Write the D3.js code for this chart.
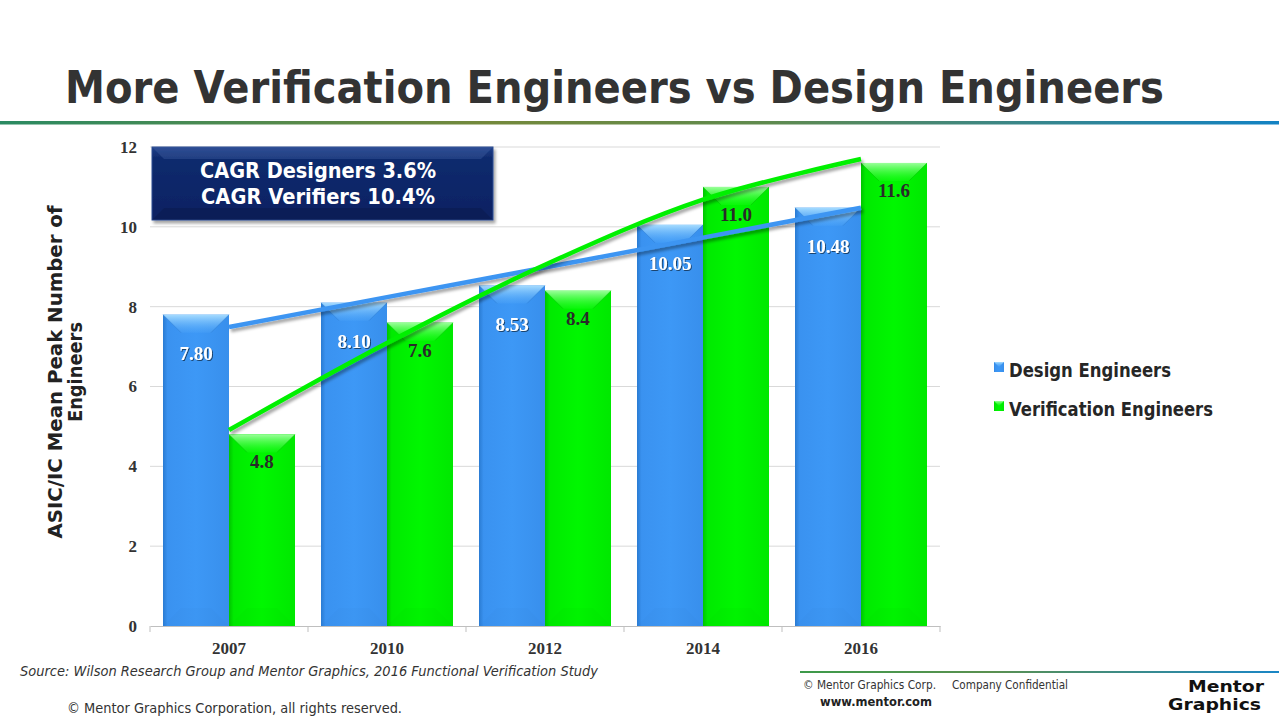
<!DOCTYPE html>
<html><head><meta charset="utf-8">
<script src="https://cdn.jsdelivr.net/npm/d3@7"></script>
<style>body{margin:0;background:#fff;overflow:hidden}svg{display:block}</style>
</head><body>
<svg id="c" width="1279" height="720"></svg>
<script>
// ---------- data ----------
const categories = ["2007", "2010", "2012", "2014", "2016"];
const seriesNames = ["Design Engineers", "Verification Engineers"];
const designValues = [7.80, 8.10, 8.53, 10.05, 10.48];
const verificationValues = [4.8, 7.6, 8.4, 11.0, 11.6];
const designTrend = [7.49, 8.24, 8.98, 9.73, 10.48];
const verificationTrend = [4.91, 7.09, 9.05, 10.68, 11.70];
const yTicks = [0, 2, 4, 6, 8, 10, 12];
const titleText = "More Verification Engineers vs Design Engineers";
const cagrLines = ["CAGR Designers  3.6%", "CAGR Verifiers  10.4%"];
const yTitleLines = ["ASIC/IC Mean Peak Number of", "Engineers"];
const sourceText = "Source:  Wilson Research Group and Mentor Graphics, 2016 Functional Verification Study";
const copyrightText = "\u00A9 Mentor Graphics Corporation, all rights reserved.";

// ---------- setup ----------
const svg = d3.select("#c");
const SANS = "'DejaVu Sans', Verdana, sans-serif";
const SERIF = "'Liberation Serif', 'Times New Roman', serif";
const defs = svg.append("defs");

function lin(id, x2, y2, stops) {
  const g = defs.append("linearGradient").attr("id", id)
    .attr("x1", 0).attr("y1", 0).attr("x2", x2).attr("y2", y2);
  stops.forEach(s => g.append("stop").attr("offset", s[0]).attr("stop-color", s[1])
    .attr("stop-opacity", s[2] === undefined ? 1 : s[2]));
}
lin("hdr", 1, 0, [[0, "#2a8a62"], [0.38, "#74893b"], [0.6, "#5f8a4e"], [1, "#1282c4"]]);
lin("ftr", 1, 0, [[0, "#3d9a4a"], [0.4, "#5a9050"], [1, "#1a86c6"]]);
lin("blueMain", 1, 0, [[0, "#2a7bd2"], [0.07, "#3a92f0"], [0.5, "#3d98f6"], [1, "#388fec"]]);
lin("greenMain", 1, 0, [[0, "#00c400"], [0.07, "#00ea00"], [0.5, "#00f700"], [1, "#00e800"]]);
lin("blueTop", 0, 1, [[0, "#a6dcff"], [1, "#5aaefa", 0.2]]);
lin("greenTop", 0, 1, [[0, "#9bff9b"], [1, "#33ff33", 0.2]]);
lin("boxFill", 0, 1, [[0, "#20408a"], [0.15, "#0f2b6e"], [1, "#0a2162"]]);

const f1 = defs.append("filter").attr("id", "shadow").attr("x", "-10%").attr("y", "-30%").attr("width", "130%").attr("height", "180%");
f1.append("feDropShadow").attr("dx", 2).attr("dy", 3).attr("stdDeviation", 1.8)
  .attr("flood-color", "#000").attr("flood-opacity", 0.35);
const f2 = defs.append("filter").attr("id", "txtShadow").attr("x", "-20%").attr("y", "-40%").attr("width", "150%").attr("height", "200%");
f2.append("feDropShadow").attr("dx", 1).attr("dy", 1).attr("stdDeviation", 0.6)
  .attr("flood-color", "#000").attr("flood-opacity", 0.55);

function fit(sel, len) { return sel.attr("textLength", len).attr("lengthAdjust", "spacingAndGlyphs"); }

// ---------- header ----------
fit(svg.append("text").attr("x", 65).attr("y", 103)
  .style("font-family", SANS).style("font-weight", "bold").style("font-size", "44px")
  .attr("fill", "#333333").text(titleText), 1099);
svg.append("rect").attr("x", 0).attr("y", 121).attr("width", 1279).attr("height", 3.5).attr("fill", "url(#hdr)");

// ---------- scales ----------
const x = d3.scaleBand().domain(categories).range([150, 940]).paddingInner(0.1646).paddingOuter(0.0823);
const xs = d3.scaleBand().domain([0, 1]).range([0, x.bandwidth()]);
const y = d3.scaleLinear().domain([0, 12]).range([626, 147]);

// gridlines
svg.append("g").selectAll("line").data(yTicks.filter(d => d > 0)).join("line")
  .attr("x1", 150).attr("x2", 940).attr("y1", d => y(d)).attr("y2", d => y(d))
  .attr("stroke", "#d9d9d9").attr("stroke-width", 1);

// y axis (labels only)
const yAxis = svg.append("g").attr("transform", "translate(150,0)")
  .call(d3.axisLeft(y).tickValues(yTicks).tickSize(0).tickPadding(13).tickFormat(d3.format("d")));
yAxis.select(".domain").remove();
yAxis.selectAll("text").style("font-family", SERIF).style("font-weight", "bold")
  .style("font-size", "17px").attr("fill", "#333");

// x axis
const xAxis = svg.append("g").attr("transform", "translate(0,626)")
  .call(d3.axisBottom(x).tickSize(0).tickPadding(16));
xAxis.select(".domain").attr("stroke", "#bfbfbf");
xAxis.selectAll("text").style("font-family", SERIF).style("font-weight", "bold")
  .style("font-size", "17px").attr("fill", "#333");
const bounds = categories.map(c => x(c) - (x.step() - x.bandwidth()) / 2).concat([940]);
svg.append("g").selectAll("line").data(bounds).join("line")
  .attr("x1", d => d).attr("x2", d => d).attr("y1", 626).attr("y2", 632)
  .attr("stroke", "#bfbfbf");

// ---------- bars ----------
const series = [
  { name: seriesNames[0], values: designValues, main: "url(#blueMain)", top: "url(#blueTop)", edge: "#2b78cc", fmt: d3.format(".2f"), lab: "#ffffff", dy: 45 },
  { name: seriesNames[1], values: verificationValues, main: "url(#greenMain)", top: "url(#greenTop)", edge: "#00b800", fmt: d3.format(".1f"), lab: "#2a2a2a", dy: 34 }
];
const B = 18;
series.forEach((s, si) => {
  const g = svg.append("g");
  const items = categories.map((c, i) => ({ c, v: s.values[i], x0: x(c) + xs(si), w: xs.bandwidth() }));
  g.selectAll("rect.bar").data(items).join("rect").attr("class", "bar")
    .attr("x", d => d.x0).attr("y", d => y(d.v)).attr("width", d => d.w).attr("height", d => y(0) - y(d.v))
    .attr("fill", s.main);
  g.selectAll("path.bevel").data(items).join("path").attr("class", "bevel")
    .attr("d", d => { const t = y(d.v); return `M${d.x0},${t}L${d.x0 + d.w},${t}L${d.x0 + d.w - B},${t + B}L${d.x0 + B},${t + B}Z`; })
    .attr("fill", s.top);
  g.selectAll("path.diag").data(items).join("path").attr("class", "diag")
    .attr("d", d => { const t = y(d.v); return `M${d.x0},${t}L${d.x0 + B},${t + B}M${d.x0 + d.w},${t}L${d.x0 + d.w - B},${t + B}`; })
    .attr("stroke", s.edge).attr("stroke-opacity", 0.45).attr("stroke-width", 1).attr("fill", "none");
  g.selectAll("path.bot").data(items).join("path").attr("class", "bot")
    .attr("d", d => { const b = y(0); return `M${d.x0},${b}L${d.x0 + B},${b - B}L${d.x0 + d.w - B},${b - B}L${d.x0 + d.w},${b}Z`; })
    .attr("fill", s.edge).attr("fill-opacity", 0.06);
});

// ---------- trend lines ----------
const trendX = c => x(c) + x.bandwidth() / 2;
svg.append("path").datum(designTrend)
  .attr("d", d3.line().x((d, i) => trendX(categories[i])).y(d => y(d)))
  .attr("fill", "none").attr("stroke", "#3d95f2").attr("stroke-width", 4.5).attr("filter", "url(#shadow)");
svg.append("path").datum(verificationTrend)
  .attr("d", d3.line().x((d, i) => trendX(categories[i])).y(d => y(d)).curve(d3.curveCatmullRom.alpha(0.5)))
  .attr("fill", "none").attr("stroke", "#00f000").attr("stroke-width", 4.5).attr("filter", "url(#shadow)");

// ---------- data labels ----------
series.forEach((s, si) => {
  svg.append("g").selectAll("text").data(s.values).join("text")
    .attr("x", (d, i) => x(categories[i]) + xs(si) + xs.bandwidth() / 2)
    .attr("y", d => y(d) + s.dy)
    .attr("text-anchor", "middle")
    .style("font-family", SERIF).style("font-weight", "bold").style("font-size", "19px")
    .attr("fill", s.lab)
    .attr("filter", si === 0 ? "url(#txtShadow)" : null)
    .text(d => s.fmt(d));
});

// ---------- CAGR box ----------
svg.append("rect").attr("x", 152).attr("y", 147).attr("width", 341).attr("height", 73)
  .attr("fill", "url(#boxFill)").attr("stroke", "#2d4d92").attr("stroke-width", 1).attr("filter", "url(#shadow)");
svg.append("path").attr("d", "M152,147L493,147L481,159L164,159Z").attr("fill", "#4868a8").attr("opacity", 0.35);
svg.append("path").attr("d", "M152,220L493,220L481,208L164,208Z").attr("fill", "#000").attr("opacity", 0.12);
svg.append("g").selectAll("text").data(cagrLines).join("text")
  .attr("x", 318).attr("y", (d, i) => 178 + i * 26).attr("text-anchor", "middle")
  .style("font-family", SANS).style("font-weight", "bold").style("font-size", "21px")
  .attr("fill", "#ffffff").attr("textLength", (d, i) => i === 0 ? 236 : 234).attr("lengthAdjust", "spacingAndGlyphs")
  .text(d => d);

// ---------- y axis title ----------
const yTitleX = [62, 82], yTitleLen = [333, 100];
yTitleLines.forEach((t, i) => {
  fit(svg.append("text").attr("transform", `translate(${yTitleX[i]},${372}) rotate(-90)`)
    .attr("text-anchor", "middle")
    .style("font-family", SANS).style("font-weight", "bold").style("font-size", "20px")
    .attr("fill", "#222").text(t), yTitleLen[i]);
});

// ---------- legend ----------
const legColors = ["url(#blueMain)", "url(#greenMain)"];
const legTop = ["url(#blueTop)", "url(#greenTop)"];
const legY = [377, 416], legLen = [162, 204];
seriesNames.forEach((n, i) => {
  svg.append("rect").attr("x", 994).attr("y", legY[i] - 15).attr("width", 10).attr("height", 10).attr("fill", legColors[i]);
  svg.append("path").attr("d", `M994,${legY[i] - 15}L1004,${legY[i] - 15}L999,${legY[i] - 10}Z`).attr("fill", legTop[i]);
  fit(svg.append("text").attr("x", 1009).attr("y", legY[i])
    .style("font-family", SANS).style("font-weight", "bold").style("font-size", "19px")
    .attr("fill", "#262626").text(n), legLen[i]);
});

// ---------- footer ----------
fit(svg.append("text").attr("x", 20).attr("y", 676)
  .style("font-family", SANS).style("font-style", "italic").style("font-size", "14px")
  .attr("fill", "#333").text(sourceText), 578);
fit(svg.append("text").attr("x", 67).attr("y", 713)
  .style("font-family", SANS).style("font-size", "14px")
  .attr("fill", "#333").text(copyrightText), 335);
svg.append("rect").attr("x", 800).attr("y", 671).attr("width", 479).attr("height", 2).attr("fill", "url(#ftr)");
fit(svg.append("text").attr("x", 803).attr("y", 689).style("font-family", SANS).style("font-size", "12px")
  .attr("fill", "#333").text("\u00A9 Mentor Graphics Corp."), 133);
fit(svg.append("text").attr("x", 952).attr("y", 689).style("font-family", SANS).style("font-size", "12px")
  .attr("fill", "#333").text("Company Confidential"), 116);
fit(svg.append("text").attr("x", 820).attr("y", 706).style("font-family", SANS).style("font-weight", "bold").style("font-size", "12px")
  .attr("fill", "#222").text("www.mentor.com"), 112);
fit(svg.append("text").attr("x", 1188).attr("y", 692).style("font-family", SANS).style("font-weight", "bold").style("font-size", "15px")
  .attr("fill", "#111").text("Mentor"), 76);
fit(svg.append("text").attr("x", 1168).attr("y", 710).style("font-family", SANS).style("font-weight", "bold").style("font-size", "15px")
  .attr("fill", "#111").text("Graphics"), 93);
</script>
</body></html>
